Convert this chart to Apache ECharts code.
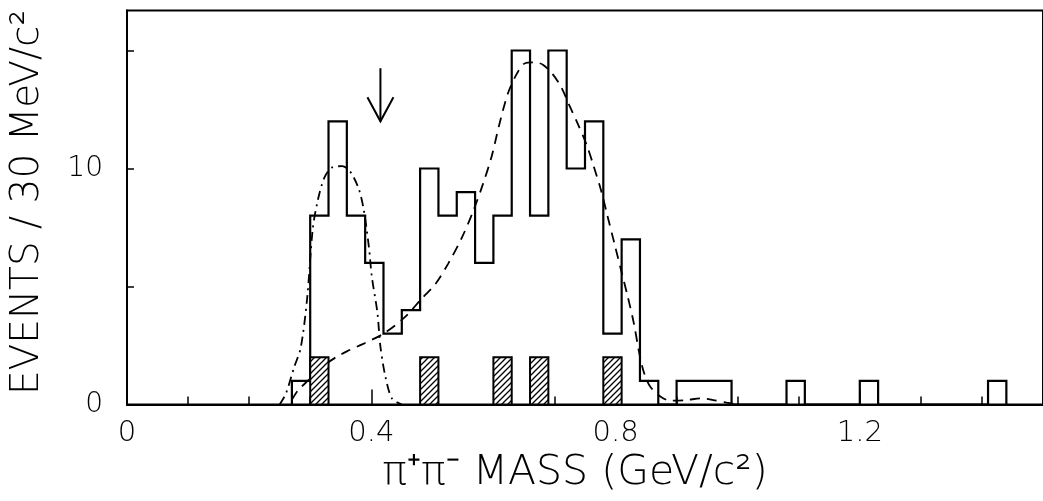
<!DOCTYPE html>
<html>
<head>
<meta charset="utf-8">
<script src="https://cdn.jsdelivr.net/npm/echarts@6.0.0/dist/echarts.min.js"></script>
<style>
  html, body { margin: 0; padding: 0; background: #fff; }
  #chart { width: 1043px; height: 501px; }
</style>
</head>
<body>
<div id="chart"></div>
<script>
// pi+ pi- invariant mass spectrum, 30 MeV bins
const binStart = 0.27;
const binWidth = 0.03;
const counts = [1, 8, 12, 8, 6, 3, 4, 10, 8, 9, 6, 8, 15, 8, 15, 10, 12, 3, 7, 1,
                0, 1, 1, 1, 0, 0, 0, 1, 0, 0, 0, 1, 0, 0, 0, 0, 0, 0, 1];

// hatched entries (lower bin edge, events)
const hatchedMass = [0.30, 0.48, 0.60, 0.66, 0.78];
const hatchedCounts = [2, 2, 2, 2, 2];

// dash-dot fit curve
const fitDashDot = [
  [0.25, 0.0], [0.26, 0.45], [0.274, 1.6], [0.2845, 2.4], [0.295, 4.5], [0.304, 7.4],
  [0.312, 8.6], [0.323, 9.6], [0.336, 10.05], [0.3525, 10.1], [0.366, 9.85],
  [0.38, 9.1], [0.388, 8.2], [0.396, 6.7], [0.401, 5.4], [0.41, 3.9], [0.415, 2.45],
  [0.423, 1.2], [0.434, 0.25], [0.45, 0.0]
];

// dashed fit curve
const fitDashed = [
  [0.27, 0.2], [0.28, 0.6], [0.298, 1.05], [0.32, 1.6], [0.342, 2.0], [0.36, 2.25],
  [0.385, 2.55], [0.42, 3.0], [0.455, 3.7], [0.483, 4.5], [0.505, 5.1], [0.526, 5.97],
  [0.548, 7.05], [0.567, 8.2], [0.583, 9.35], [0.597, 10.5], [0.61, 11.9], [0.624, 13.2],
  [0.638, 14.0], [0.651, 14.45], [0.667, 14.5], [0.681, 14.4], [0.697, 14.0],
  [0.711, 13.45], [0.724, 12.7], [0.738, 11.9], [0.752, 11.05], [0.763, 10.2],
  [0.776, 9.1], [0.787, 7.97], [0.798, 6.84], [0.809, 5.7], [0.82, 4.57], [0.83, 3.44],
  [0.838, 2.3], [0.846, 1.4], [0.857, 0.75], [0.874, 0.33], [0.89, 0.16], [0.917, 0.19],
  [0.939, 0.26], [0.96, 0.19], [0.982, 0.08], [1.0, 0.0]
];

// arrow marker: mass, tip height, tail height
const arrowMass = [0.415];
const arrowTip = [12.0];
const arrowTail = [14.25];

// axis ticks and labels
const xMajorTicks = [0, 0.4, 0.8, 1.2];
const yLabelValues = [0, 10];

// step outline of the histogram, built from the bin contents
const outline = [];
counts.forEach((c, i) => {
  const lo = +(binStart + i * binWidth).toFixed(4);
  const hi = +(binStart + (i + 1) * binWidth).toFixed(4);
  if (i === 0) outline.push([lo, 0]);
  outline.push([lo, c], [hi, c]);
  if (i === counts.length - 1) outline.push([hi, 0]);
});

// diagonal hatch pattern tile
function hatchTile() {
  const s = 6;
  const cv = document.createElement('canvas');
  cv.width = s; cv.height = s;
  const g = cv.getContext('2d');
  g.fillStyle = '#fff';
  g.fillRect(0, 0, s, s);
  g.strokeStyle = '#000';
  g.lineWidth = 1.3;
  g.beginPath();
  g.moveTo(-1, s + 1); g.lineTo(s + 1, -1);
  g.moveTo(-1, 1); g.lineTo(1, -1);
  g.moveTo(s - 1, s + 1); g.lineTo(s + 1, s - 1);
  g.stroke();
  return cv;
}
const hatchFill = { image: hatchTile(), repeat: 'repeat' };

const FONT = 'DejaVu Sans';
const chart = echarts.init(document.getElementById('chart'), null, { renderer: 'canvas' });

chart.setOption({
  animation: false,
  backgroundColor: '#fff',
  grid: {
    left: 124, top: 10.4, width: 920.5, height: 394.1,
    show: true, borderColor: '#000', borderWidth: 2, backgroundColor: 'transparent'
  },
  xAxis: [
    {
      type: 'value', min: 0, max: 1.5, interval: 0.1, position: 'bottom',
      axisLine: { show: true, lineStyle: { color: '#000', width: 2 } },
      axisTick: { show: true, inside: true, length: 8, lineStyle: { color: '#000', width: 1.5 } },
      axisLabel: { show: false },
      splitLine: { show: false }
    },
    {
      type: 'value', min: 0, max: 1.5, interval: 0.4, position: 'bottom', offset: 0,
      axisLine: { show: false },
      axisTick: { show: true, inside: true, length: 15, lineStyle: { color: '#000', width: 1.5 } },
      axisLabel: {
        show: true, showMaxLabel: false, margin: 14,
        color: '#000', fontFamily: FONT, fontSize: 29, fontWeight: 200,
        formatter: v => (xMajorTicks.some(t => Math.abs(t - v) < 1e-6) ? String(+v.toFixed(1)) : '')
      },
      splitLine: { show: false },
      name: 'π⁺π⁻ MASS (GeV/c²)',
      nameLocation: 'middle',
      nameGap: 34,
      nameTextStyle: { color: '#000', fontFamily: FONT, fontSize: 41, fontWeight: 200, padding: [0, 20, 0, 0] }
    }
  ],
  yAxis: {
    type: 'value', min: 0, max: 16.7, interval: 5,
    axisLine: { show: true, lineStyle: { color: '#000', width: 2 } },
    axisTick: { show: true, inside: true, length: 7, lineStyle: { color: '#000', width: 1.5 } },
    axisLabel: {
      show: true, showMaxLabel: false, margin: 24,
      color: '#000', fontFamily: FONT, fontSize: 28, fontWeight: 200,
      formatter: v => (yLabelValues.includes(v) ? String(v) : '')
    },
    splitLine: { show: false },
    name: 'EVENTS / 30 MeV/c²',
    nameLocation: 'middle',
    nameRotate: 90,
    nameGap: 80,
    nameTextStyle: { color: '#000', fontFamily: FONT, fontSize: 39, fontWeight: 200, padding: [0, 0, 0, 10] }
  },
  series: [
    {
      name: 'dashdot',
      type: 'line', xAxisIndex: 0, data: fitDashDot, smooth: 0.3, symbol: 'none',
      lineStyle: { color: '#000', width: 1.8, type: [9, 5, 2, 5] }, z: 2
    },
    {
      name: 'dashed',
      type: 'line', xAxisIndex: 0, data: fitDashed, smooth: 0.3, symbol: 'none',
      lineStyle: { color: '#000', width: 1.8, type: [10, 7] }, z: 2
    },
    {
      name: 'histogram',
      type: 'line', xAxisIndex: 0, data: outline, symbol: 'none', smooth: false,
      lineStyle: { color: '#000', width: 2.2, join: 'miter' }, z: 3
    },
    {
      name: 'hatched',
      type: 'custom', xAxisIndex: 0,
      data: hatchedMass.map((m, i) => [m, hatchedCounts[i]]),
      renderItem: (params, api) => {
        const x0 = api.value(0), h = api.value(1);
        const p0 = api.coord([x0, 0]);
        const p1 = api.coord([x0 + binWidth, h]);
        return {
          type: 'rect',
          shape: { x: p0[0], y: p1[1], width: p1[0] - p0[0], height: p0[1] - p1[1] },
          style: { fill: hatchFill, stroke: '#000', lineWidth: 2 }
        };
      },
      z: 4
    },
    {
      name: 'arrow',
      type: 'custom', xAxisIndex: 0,
      data: arrowMass.map((m, i) => [m, arrowTip[i], arrowTail[i]]),
      renderItem: (params, api) => {
        const tip = api.coord([api.value(0), api.value(1)]);
        const tail = api.coord([api.value(0), api.value(2)]);
        const st = { stroke: '#000', lineWidth: 2, fill: null };
        return {
          type: 'group',
          children: [
            { type: 'line', shape: { x1: tail[0], y1: tail[1], x2: tip[0], y2: tip[1] }, style: st },
            { type: 'polyline', shape: { points: [[tip[0] - 13, tip[1] - 24], tip, [tip[0] + 13, tip[1] - 24]] }, style: st }
          ]
        };
      },
      z: 4
    }
  ]
});
</script>
</body>
</html>
